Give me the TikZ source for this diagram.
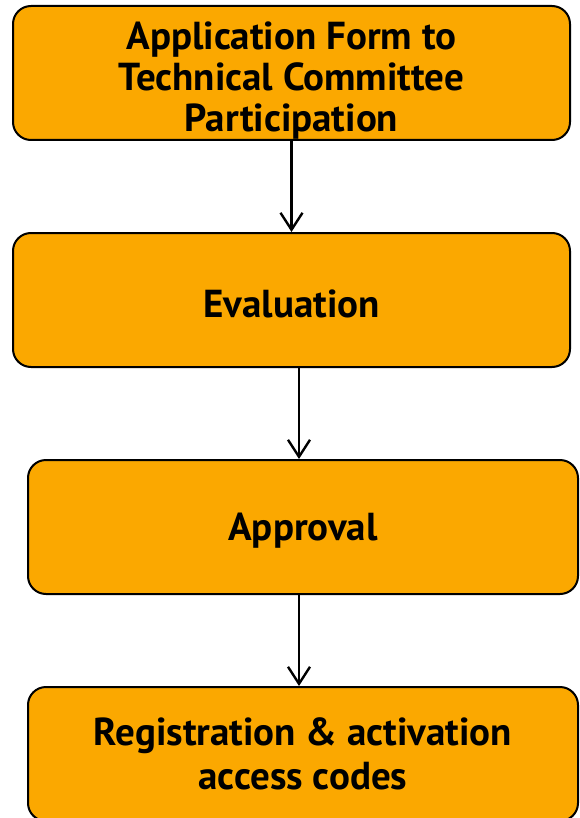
\documentclass[tikz,border=0pt]{standalone}
\usepackage{fontspec}
\setmainfont{PT Sans}
\usetikzlibrary{positioning}
\usetikzlibrary{arrows.meta}
\definecolor{boxorange}{RGB}{251,168,0}

\begin{document}
\begin{tikzpicture}
  [x=1pt, y=-1pt,
  stepbox/.style={rectangle,rounded corners=18pt,draw=black,fill=boxorange,line width=2pt,minimum width=557pt,minimum height=134pt,align=center,inner sep=0pt,text depth=0pt,font=\fontsize{39}{41}\selectfont\bfseries},
  flow/.style={black,line width=2.4pt,arrows={-Straight Barb[length=17pt,width=22pt]}}]
  \useasboundingbox (0,0) rectangle (580,818);

  \node[stepbox,text height=118pt] (form) at (291.5,73) {Application Form to\\Technical Committee\\Participation};
  \node[stepbox,text height=34pt] (eval) at (291.5,300) {Evaluation};
  \node[stepbox,minimum width=550pt] (appr) at (303,527) {Approval};
  \node[stepbox,minimum width=550pt,font=\fontsize{39}{44}\selectfont\bfseries] (regi) at (303,754) {Registration \& activation\\access codes};

  \draw[flow] (form) -- (eval);
  \draw[flow] ([xshift=7.5pt]eval.south) -- ([xshift=-4pt]appr.north);
  \draw[flow] ([xshift=-4pt]appr.south) -- ([xshift=-4pt]regi.north);
\end{tikzpicture}
\end{document}
